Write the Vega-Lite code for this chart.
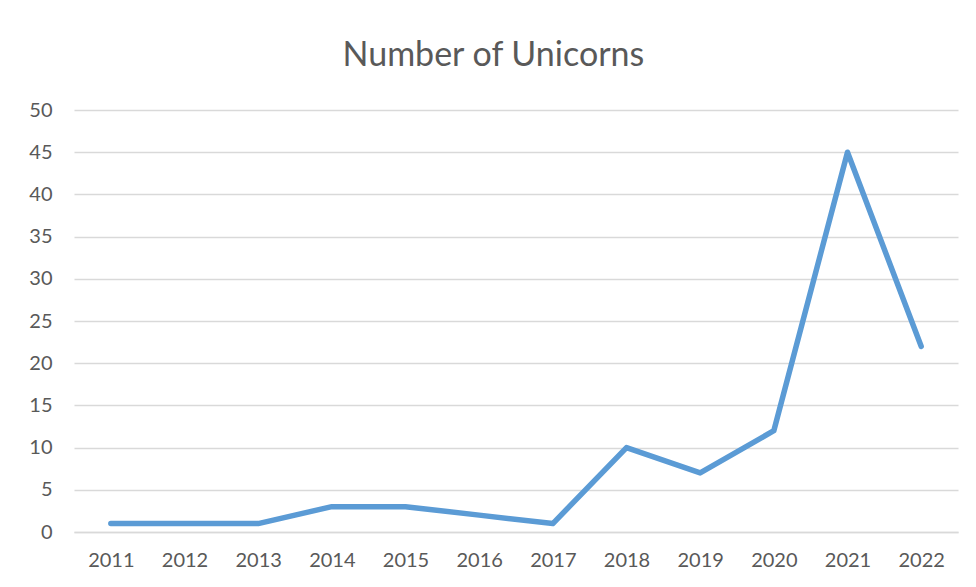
{
  "$schema": "https://vega.github.io/schema/vega-lite/v6.json",
  "width": 884,
  "height": 422,
  "autosize": {"type": "none"},
  "padding": {"left": 74, "top": 110, "right": 18, "bottom": 55},
  "background": "white",
  "title": {
    "text": "Number of Unicorns",
    "font": "Lato",
    "fontSize": 34,
    "fontWeight": "normal",
    "color": "#595959",
    "anchor": "middle",
    "frame": "bounds",
    "offset": 27
  },
  "data": {
    "values": [
      {"year": "2011", "count": 1},
      {"year": "2012", "count": 1},
      {"year": "2013", "count": 1},
      {"year": "2014", "count": 3},
      {"year": "2015", "count": 3},
      {"year": "2016", "count": 2},
      {"year": "2017", "count": 1},
      {"year": "2018", "count": 10},
      {"year": "2019", "count": 7},
      {"year": "2020", "count": 12},
      {"year": "2021", "count": 45},
      {"year": "2022", "count": 22}
    ]
  },
  "mark": {"type": "line", "color": "#5b9bd5", "strokeWidth": 5.5, "strokeCap": "round", "strokeJoin": "round"},
  "encoding": {
    "x": {
      "field": "year",
      "type": "ordinal",
      "scale": {"type": "point", "padding": 0.5},
      "axis": {
        "title": null,
        "labelAngle": 0,
        "ticks": false,
        "domain": true,
        "domainColor": "#d9d9d9",
        "domainWidth": 1.5,
        "labelPadding": 18,
        "labelFont": "Lato",
        "labelFontSize": 20,
        "labelColor": "#595959",
        "grid": false
      }
    },
    "y": {
      "field": "count",
      "type": "quantitative",
      "scale": {"domain": [0, 50]},
      "axis": {
        "title": null,
        "values": [0, 5, 10, 15, 20, 25, 30, 35, 40, 45, 50],
        "ticks": false,
        "domain": false,
        "grid": true,
        "gridColor": "#d9d9d9",
        "gridWidth": 1.5,
        "labelPadding": 22,
        "labelFont": "Lato",
        "labelFontSize": 20,
        "labelColor": "#595959"
      }
    }
  },
  "config": {"view": {"stroke": null}}
}
